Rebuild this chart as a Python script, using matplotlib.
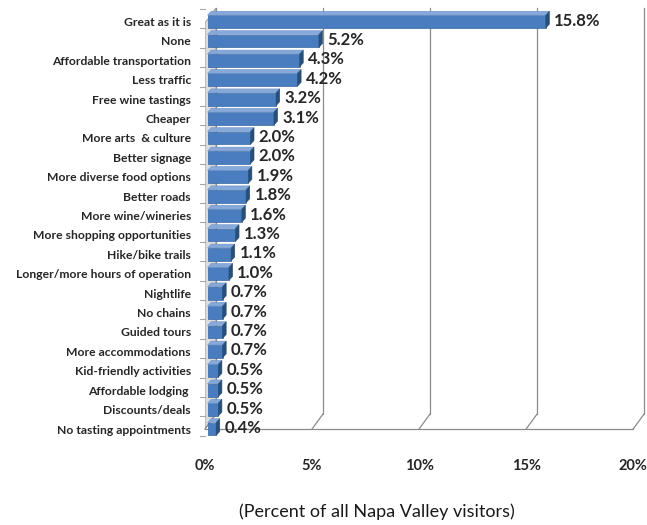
import matplotlib
matplotlib.use('Agg')
import matplotlib.pyplot as plt
import matplotlib.patches as patches

plt.rcParams['font.family'] = ['Lato', 'DejaVu Sans']

# Survey answers, top to bottom as in the chart
categories = ['Great as it is', 'None', 'Affordable transportation', 'Less traffic',
              'Free wine tastings', 'Cheaper', 'More arts  & culture', 'Better signage',
              'More diverse food options', 'Better roads', 'More wine/wineries',
              'More shopping opportunities', 'Hike/bike trails',
              'Longer/more hours of operation', 'Nightlife', 'No chains', 'Guided tours',
              'More accommodations', 'Kid-friendly activities', 'Affordable lodging ',
              'Discounts/deals', 'No tasting appointments']
values = [15.8, 5.2, 4.3, 4.2, 3.2, 3.1, 2.0, 2.0, 1.9, 1.8, 1.6, 1.3, 1.1, 1.0,
          0.7, 0.7, 0.7, 0.7, 0.5, 0.5, 0.5, 0.4]
xticks = [0, 5, 10, 15, 20]

n = len(categories)

# fake 3D depth (x in %, y in category units)
wall_dx, wall_dy = 0.51, 0.77
bar_x0, bar_h = 0.12, 0.66
bar_dx, bar_dy = 0.17, 0.2

fig = plt.figure(figsize=(6.47, 5.25), dpi=100)
ax = fig.add_axes([205 / 647, 83 / 525, 441 / 647, 434 / 525])
ax.set_xlim(0, 20.6)
ax.set_ylim(-0.67, 21.7)
for s in ax.spines.values():
    s.set_visible(False)

grid_col = '#8c8c8c'
top_y = ax.get_ylim()[1]

# left wall
wall = patches.Polygon([(0, 0), (wall_dx, wall_dy), (wall_dx, top_y), (0, top_y - wall_dy)],
                       closed=True, facecolor='#dcdcdc', edgecolor='#a6a6a6', lw=0.8, zorder=1)
ax.add_patch(wall)

# back wall gridlines + floor
for t in xticks:
    ax.plot([t + wall_dx, t + wall_dx], [wall_dy, top_y], color=grid_col, lw=0.9, zorder=1,
            clip_on=False)
    ax.plot([t, t + wall_dx], [0, wall_dy], color=grid_col, lw=0.9, zorder=1, clip_on=False)
ax.plot([0, 20], [0, 0], color=grid_col, lw=0.9, zorder=1, clip_on=False)

# small category ticks on the left
for i in range(n + 1):
    yb = i - 0.5 + 0.15
    ax.plot([-0.25, 0], [yb, yb], color='#a6a6a6', lw=0.8, clip_on=False, zorder=1)

# bars
for i, (cat, v) in enumerate(zip(categories, values)):
    y = n - 1 - i
    y0, y1 = y - bar_h / 2, y + bar_h / 2
    x0, x1 = bar_x0, bar_x0 + v
    front = patches.Rectangle((x0, y0), v, bar_h, facecolor='#4a7dbf',
                              edgecolor='#3a67a3', lw=0.5, zorder=3)
    top = patches.Polygon([(x0, y1), (x1, y1), (x1 + bar_dx, y1 + bar_dy), (x0 + bar_dx, y1 + bar_dy)],
                          closed=True, facecolor='#86a9d9', edgecolor='#6d93c7', lw=0.4, zorder=3)
    side = patches.Polygon([(x1, y0), (x1 + bar_dx, y0 + bar_dy), (x1 + bar_dx, y1 + bar_dy), (x1, y1)],
                           closed=True, facecolor='#24507f', edgecolor='#24507f', lw=0.4, zorder=3)
    ax.add_patch(front)
    ax.add_patch(top)
    ax.add_patch(side)
    ax.text(x1 + bar_dx + 0.22, y + 0.05, f'{v:.1f}%', ha='left', va='center',
            fontsize=12, fontweight='bold', color='#262626', zorder=4)

ax.set_yticks([n - 1 - i for i in range(n)])
ax.set_yticklabels(categories, fontsize=8.7, fontweight='bold', color='#262626')
ax.set_xticks(xticks)
ax.set_xticklabels([f'{t}%' for t in xticks], fontsize=10.5, fontweight='bold', color='#262626')
ax.tick_params(axis='y', length=0, pad=10)
ax.tick_params(axis='x', length=0, pad=12)

fig.text(377 / 647, 13 / 525, '(Percent of all Napa Valley visitors)', ha='center', va='center',
         fontsize=13, color='#1a1a1a')

fig.savefig('out.png', dpi=100)
